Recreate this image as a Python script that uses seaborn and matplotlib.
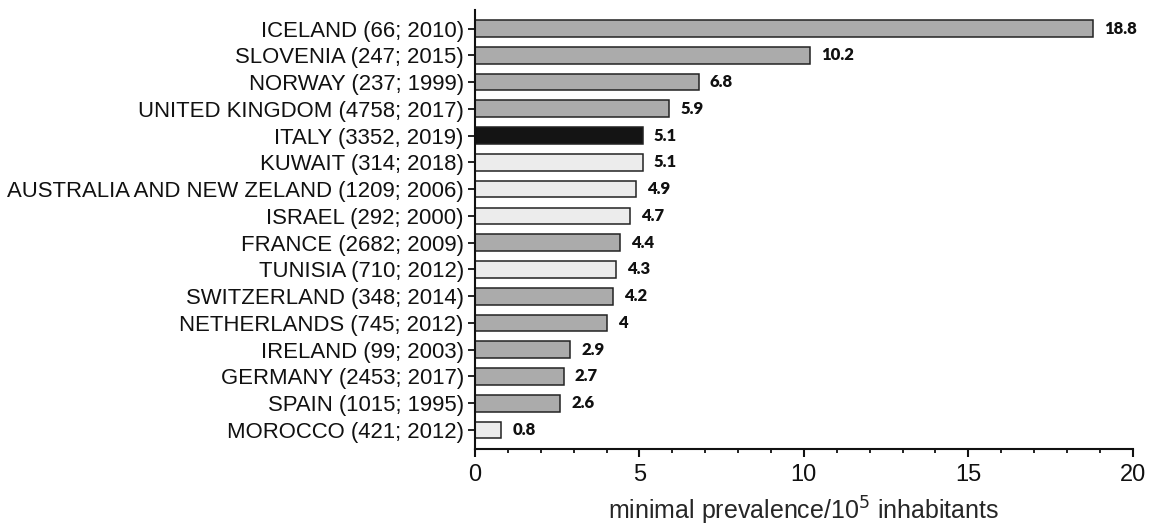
import matplotlib
matplotlib.use("Agg")
import matplotlib.pyplot as plt
from matplotlib.ticker import MultipleLocator
import seaborn as sns
import pandas as pd

# data (top to bottom)
countries = [
    "ICELAND (66; 2010)",
    "SLOVENIA (247; 2015)",
    "NORWAY (237; 1999)",
    "UNITED KINGDOM (4758; 2017)",
    "ITALY (3352, 2019)",
    "KUWAIT (314; 2018)",
    "AUSTRALIA AND NEW ZELAND (1209; 2006)",
    "ISRAEL (292; 2000)",
    "FRANCE (2682; 2009)",
    "TUNISIA (710; 2012)",
    "SWITZERLAND (348; 2014)",
    "NETHERLANDS (745; 2012)",
    "IRELAND (99; 2003)",
    "GERMANY (2453; 2017)",
    "SPAIN (1015; 1995)",
    "MOROCCO (421; 2012)",
]
prevalence = [18.8, 10.2, 6.8, 5.9, 5.1, 5.1, 4.9, 4.7, 4.4, 4.3, 4.2, 4.0, 2.9, 2.7, 2.6, 0.8]
value_labels = ["18.8", "10.2", "6.8", "5.9", "5.1", "5.1", "4.9", "4.7", "4.4", "4.3",
                "4.2", "4", "2.9", "2.7", "2.6", "0.8"]
group = ["europe", "europe", "europe", "europe", "italy", "other", "other", "other",
         "europe", "other", "europe", "europe", "europe", "europe", "europe", "other"]

group_colors = {"europe": "#ababab", "italy": "#141414", "other": "#ececec"}

df = pd.DataFrame({"country": countries, "prevalence": prevalence, "group": group})

sns.set_style("ticks")
plt.rcParams["font.family"] = ["Liberation Sans", "DejaVu Sans"]

fig = plt.figure(figsize=(11.5, 5.28), dpi=100)
ax = fig.add_axes([0.413, 0.1496, 0.572, 0.8314])

palette = {c: group_colors[g] for c, g in zip(countries, group)}
sns.barplot(data=df, x="prevalence", y="country", hue="country", palette=palette,
            legend=False, orient="h", width=0.625, edgecolor="#222222",
            linewidth=1.1, saturation=1, ax=ax)

for i, (v, lab) in enumerate(zip(prevalence, value_labels)):
    ax.annotate(lab, (v, i), xytext=(8, 0), textcoords="offset points",
                ha="left", va="center", fontsize=12, fontweight="heavy",
                family=["Lato", "DejaVu Sans"], color="#111111", annotation_clip=False)

ax.set_xlim(0, 20)
ax.set_ylim(15.71, -0.69)
ax.xaxis.set_major_locator(MultipleLocator(5))
ax.xaxis.set_minor_locator(MultipleLocator(1))
ax.set_ylabel("")
ax.set_xlabel("minimal prevalence/10$^5$ inhabitants", fontsize=18, labelpad=6)

for side in ["top", "right"]:
    ax.spines[side].set_visible(False)
for side in ["left", "bottom"]:
    ax.spines[side].set_linewidth(1.5)
    ax.spines[side].set_color("#111111")

ax.tick_params(axis="y", length=5, width=1.3, labelsize=15.9, pad=3, colors="#111111")
ax.tick_params(axis="x", which="major", length=6, width=1.5, labelsize=17, pad=5, colors="#111111")
ax.tick_params(axis="x", which="minor", length=3, width=1.3, colors="#111111")

fig.savefig("out.png", dpi=100)
